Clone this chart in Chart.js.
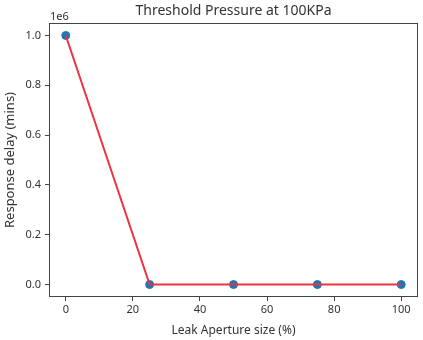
<!DOCTYPE html>
<html>
<head>
<meta charset="utf-8">
<script src="https://cdn.jsdelivr.net/npm/chart.js@4/dist/chart.umd.min.js"></script>
<style>
html,body{margin:0;padding:0;background:#fff;}
#wrap{width:423px;height:340px;position:relative;}
</style>
</head>
<body>
<div id="wrap"><canvas id="c" width="423" height="340"></canvas></div>
<script>
const apertureSizes = [0, 25, 50, 75, 100];
const responseDelays = [1000000, 0, 0, 0, 0];
const xTickValues = [0, 20, 40, 60, 80, 100];
const yTickValues = [0, 200000, 400000, 600000, 800000, 1000000];
const chartTitle = 'Threshold Pressure at 100KPa';
const xTitle = 'Leak Aperture size (%)';
const yTitle = 'Response delay (mins)';
const offsetText = '1e6';

const FONT = "'Noto Sans', sans-serif";
const TXT = '#333';
const FRAME = '#444';

const pts = apertureSizes.map((x, i) => ({x: x, y: responseDelays[i]}));

const framePlugin = {
  id: 'frame',
  afterDraw(chart) {
    const {ctx, chartArea: a} = chart;
    ctx.save();
    ctx.strokeStyle = FRAME;
    ctx.lineWidth = 1;
    ctx.strokeRect(a.left + 0.5, a.top + 0.5, a.right - a.left - 1, a.bottom - a.top - 1);
    ctx.fillStyle = TXT;
    ctx.font = '14px ' + FONT;
    ctx.textAlign = 'center';
    ctx.textBaseline = 'middle';
    ctx.fillText(chartTitle, (a.left + a.right) / 2, 11);
    ctx.font = '11px ' + FONT;
    ctx.textAlign = 'left';
    ctx.textBaseline = 'alphabetic';
    ctx.fillText(offsetText, a.left + 1, 20);
    ctx.restore();
  }
};

new Chart(document.getElementById('c'), {
  type: 'line',
  data: {
    datasets: [
      {
        data: pts,
        borderColor: '#ee3340',
        borderWidth: 2,
        pointRadius: 0,
        fill: false,
        tension: 0,
        order: 0
      },
      {
        type: 'scatter',
        data: pts,
        showLine: false,
        backgroundColor: '#1f77b4',
        borderColor: '#1f77b4',
        pointRadius: 4,
        order: 1
      }
    ]
  },
  options: {
    responsive: false,
    animation: false,
    layout: {padding: {top: 23, right: 5, left: 0, bottom: 0}},
    plugins: {legend: {display: false}, tooltip: {enabled: false}, title: {display: false}},
    scales: {
      x: {
        type: 'linear',
        min: -5, max: 105,
        afterBuildTicks: s => { s.ticks = xTickValues.map(v => ({value: v})); },
        afterFit: s => { s.height = 43; },
        grid: {drawOnChartArea: false, drawTicks: true, tickLength: 4, tickColor: FRAME, color: FRAME},
        border: {display: false},
        ticks: {color: TXT, font: {family: FONT, size: 11}, padding: 2, maxRotation: 0},
        title: {display: true, text: xTitle, color: TXT, font: {family: FONT, size: 12}, padding: {top: 0, bottom: 2}}
      },
      y: {
        type: 'linear',
        min: -50000, max: 1050000,
        afterBuildTicks: s => { s.ticks = yTickValues.map(v => ({value: v})); },
        afterFit: s => { s.width = 49; },
        grid: {drawOnChartArea: false, drawTicks: true, tickLength: 4, tickColor: FRAME, color: FRAME},
        border: {display: false},
        ticks: {color: TXT, font: {family: FONT, size: 11}, padding: 4, callback: v => (v / 1e6).toFixed(1)},
        title: {display: true, text: yTitle, color: TXT, font: {family: FONT, size: 13}, padding: {top: 2, bottom: 0}}
      }
    }
  },
  plugins: [framePlugin]
});
</script>
</body>
</html>
